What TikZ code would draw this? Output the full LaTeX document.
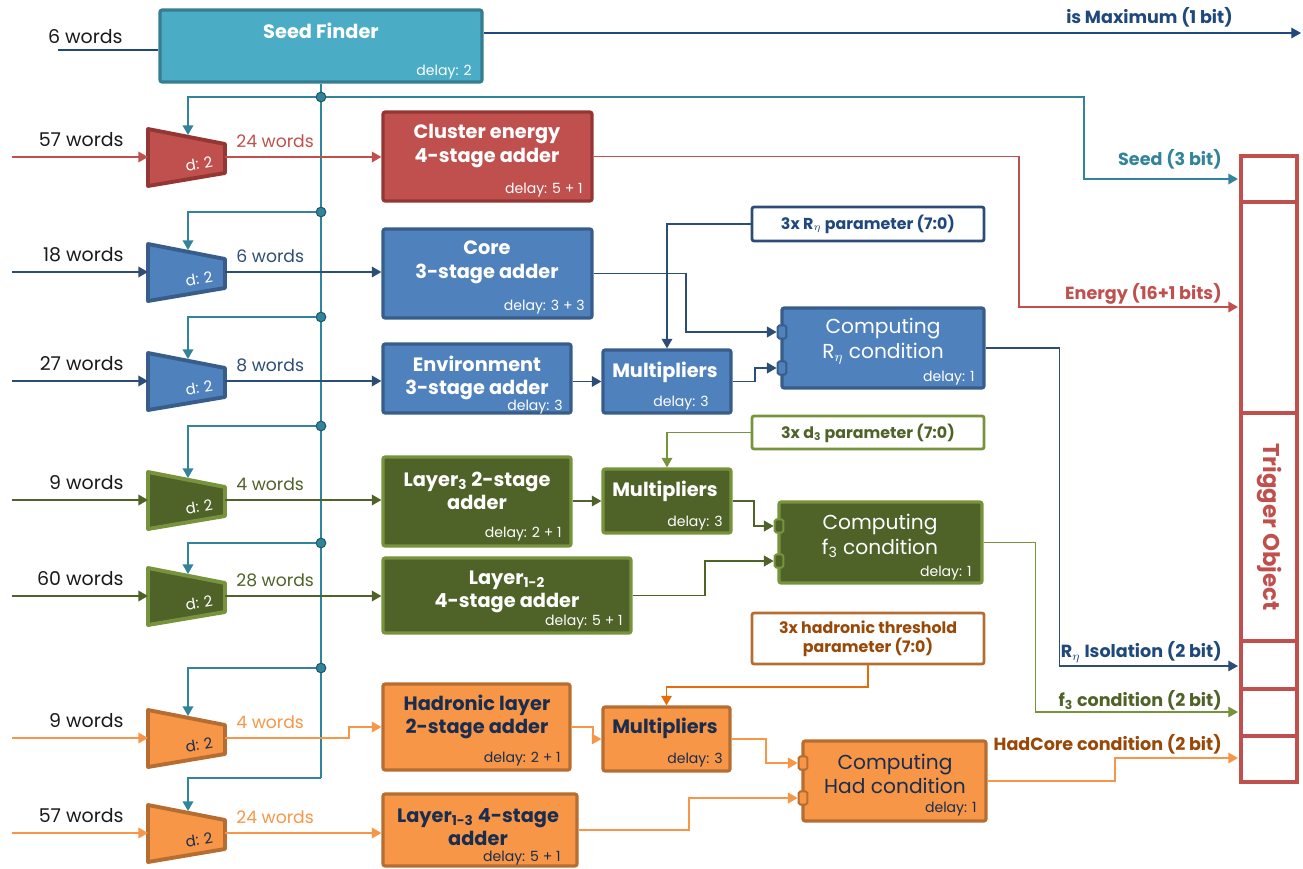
\documentclass[tikz,border=0pt]{standalone}
\usepackage{fontspec}
\setmainfont{Poppins}
\usetikzlibrary{arrows.meta,fit,positioning}

\definecolor{seedfill}{HTML}{4BACC6}
\definecolor{seeddraw}{HTML}{357D91}
\definecolor{busteal}{HTML}{31849B}
\definecolor{busdark}{HTML}{215968}
\definecolor{redfill}{HTML}{C0504D}
\definecolor{reddraw}{HTML}{943634}
\definecolor{bluefill}{HTML}{4F81BD}
\definecolor{bluedraw}{HTML}{385D8A}
\definecolor{navyline}{HTML}{2C4D75}
\definecolor{navy}{HTML}{1F497D}
\definecolor{greenfill}{HTML}{4F6228}
\definecolor{greendraw}{HTML}{77933C}
\definecolor{orangefill}{HTML}{F79646}
\definecolor{orangedraw}{HTML}{B66D31}
\definecolor{darkorange}{HTML}{E46C0A}
\definecolor{hadbrown}{HTML}{984807}
\definecolor{ink}{HTML}{1B2D4F}
\definecolor{inkblack}{HTML}{1A1A1A}

\tikzset{
  blk/.style={draw, line width=1.8pt, inner sep=0pt, rounded corners=1.2pt},
  ttl/.style={font=\bfseries\fontsize{11}{13.5}\selectfont, align=center, text=white, inner sep=0pt},
  cmp/.style={font=\fontsize{11.5}{14}\selectfont, align=center, text=white, inner sep=0pt},
  dly/.style={font=\fontsize{8}{9}\selectfont, text=white, anchor=base east, inner sep=0pt},
  parbox/.style={blk, fill=white, line width=1.6pt},
  ptxt/.style={font=\bfseries\fontsize{9}{11}\selectfont, align=center, inner sep=0pt},
  port/.style={draw, line width=1.1pt, rounded corners=1pt, minimum width=5pt, minimum height=7.5pt, inner sep=0pt},
  arr/.style={-{Triangle[length=5.5pt,width=6pt]}},
  wire/.style={line width=1.1pt},
  fine/.style={line width=0.6pt},
  bus/.style={wire, draw=busteal},
  tap/.style={circle, fill=busteal, draw=busdark, line width=0.6pt, minimum size=5.5pt, inner sep=0pt},
  wlbl/.style={font=\fontsize{10.8}{12}\selectfont, inner sep=0pt},
  wout/.style={font=\fontsize{9.8}{11}\selectfont, inner sep=0pt},
  olbl/.style={font=\bfseries\fontsize{10}{12}\selectfont, anchor=east, inner sep=0pt},
  muxline/.style={line width=2.2pt, line join=round},
  dlbl/.style={font=\fontsize{8.5}{10}\selectfont, rotate=10, inner sep=0pt}
}

% name, y, fill, border, line colour, words in, words out, text colour
\newcommand{\muxblock}[8]{%
  \draw[muxline, fill=#3, draw=#4] (148,#2-28) -- (225,#2-13) -- (225,#2+16) -- (148,#2+29) -- cycle;
  \node[dlbl, text=#8] (#1) at (199,#2+7) {d: 2};
  \coordinate (#1-in) at (148,#2);
  \coordinate (#1-out) at (225,#2);
  \coordinate (#1-sel) at (188,#2-22);
  \coordinate (#1-src) at (12,#2);
  \node[wlbl, anchor=east, text=inkblack] (#1-inl) at (124,#2-17) {#6};
  \node[wout, anchor=west, text=#5] (#1-outl) at (236,#2-16) {#7};
  \draw[wire, arr, #5] (#1-src) -- (#1-in);
}

\begin{document}
\begin{tikzpicture}[x=0.02cm, y=-0.02cm]
    \useasboundingbox (0,0) rectangle (1303,869);

    \node[blk, fill=seedfill, draw=seeddraw, fit={(160,10) (482,82)}] (sf) {};
    \node[ttl] (sf-t) at (321,31) {Seed Finder};
    \node[dly] (sf-d) at (472,75) {delay: 2};
    \coordinate (sf-src) at (58,50);
    \node[wlbl, anchor=east, text=inkblack] (sf-inl) at (123,37) {6 words};
    \draw[wire, navy] (sf-src) -- (sf-src -| sf.west);
    \coordinate (in-max) at (1301,33);
    \draw[fine, arr, navy] (sf.east |- in-max) -- (in-max);
    \node[olbl, text=navy] (max-l) at (1233,17) {is Maximum (1 bit)};

    \coordinate (in-seed) at (1238,179);
    \coordinate (in-en) at (1238,307);
    \coordinate (in-r) at (1238,666);
    \coordinate (in-f) at (1238,712);
    \coordinate (in-h) at (1238,758);

    \draw[bus] (sf.south) -- (321,778) coordinate (t7);
    \foreach \n/\yy in {1/97,2/212,3/317,4/426,5/543,6/668}
        \node[tap] (t\n) at (321,\yy) {};

    \muxblock{m1}{157}{redfill}{reddraw}{redfill}{57 words}{24 words}{white}
    \muxblock{m2}{272}{bluefill}{bluedraw}{navyline}{18 words}{6 words}{white}
    \muxblock{m3}{381}{bluefill}{bluedraw}{navyline}{27 words}{8 words}{white}
    \muxblock{m4}{500}{greenfill}{greendraw}{greenfill}{9 words}{4 words}{white}
    \muxblock{m5}{596}{greenfill}{greendraw}{greenfill}{60 words}{28 words}{white}
    \muxblock{m6}{738}{orangefill}{orangedraw}{orangefill}{9 words}{4 words}{ink}
    \muxblock{m7}{833}{orangefill}{orangedraw}{orangefill}{57 words}{24 words}{ink}

    \foreach \n in {1,...,7}
        \draw[bus, arr] (t\n) -| (m\n-sel);
    \draw[bus, arr] (t1) -- ++(763,0) |- (in-seed);
    \node[olbl, text=busteal] (seed-l) at (1222,159) {Seed (3 bit)};

    \node[blk, fill=redfill, draw=reddraw, fit={(383,112) (592,201)}] (ce) {};
    \node[ttl] (ce-t) at (487,146) {Cluster energy\\4-stage adder};
    \node[dly] (ce-d) at (583,193) {delay: 5 + 1};
    \draw[wire, arr, redfill] (m1-out) -- (m1-out -| ce.west);
    \draw[wire, arr, redfill] (ce.east) -- ++(425,0) |- (in-en);
    \node[olbl, text=redfill] (en-l) at (1222,294) {Energy (16+1 bits)};

    \node[blk, fill=bluefill, draw=bluedraw, fit={(383,229) (592,318)}] (core) {};
    \node[ttl] (core-t) at (487,262) {Core\\3-stage adder};
    \node[dly] (core-d) at (585,310) {delay: 3 + 3};
    \node[blk, fill=bluefill, draw=bluedraw, fit={(383,344) (571,413)}] (env) {};
    \node[ttl] (env-t) at (477,378) {Environment\\3-stage adder};
    \node[dly] (env-d) at (563,410) {delay: 3};
    \node[blk, fill=bluefill, draw=bluedraw, fit={(603,350) (731,413)}] (mulb) {};
    \node[ttl] (mulb-t) at (665,372) {Multipliers};
    \node[dly] (mulb-d) at (709,406) {delay: 3};
    \node[parbox, draw=navyline, fit={(752,207) (984,241)}] (rpar) {};
    \node[ptxt, text=navy] (rpar-t) at (868,224) {3x R$_\eta$ parameter (7:0)};
    \node[blk, fill=bluefill, draw=bluedraw, fit={(782,308) (984,388)}] (rcomp) {};
    \node[cmp] (rcomp-t) at (883,341) {Computing\\R$_\eta$ condition};
    \node[dly] (rcomp-d) at (975,381) {delay: 1};
    \node[port, fill=bluefill, draw=bluedraw] (rp1) at (782,332) {};
    \node[port, fill=bluefill, draw=bluedraw] (rp2) at (782,368) {};
    \draw[wire, arr, navyline] (m2-out) -- (m2-out -| core.west);
    \draw[wire, arr, navyline] (core.east) -- ++(92,0) |- (rp1.west);
    \draw[wire, arr, navyline] (m3-out) -- (m3-out -| env.west);
    \draw[wire, arr, navyline] (mulb.west -| env.east) -- (mulb.west);
    \draw[wire, arr, navyline] (rpar.west) -| (mulb.north);
    \draw[wire, arr, navyline] (mulb.east) -- ++(22,0) |- (rp2.west);
    \draw[fine, arr, navyline] (rcomp.east) -- ++(74,0) |- (in-r);
    \node[olbl, text=navy] (r-l) at (1222,652) {R$_\eta$ Isolation (2 bit)};

    \node[blk, fill=greenfill, draw=greendraw, fit={(383,457) (571,546)}] (l3) {};
    \node[ttl] (l3-t) at (477,491) {Layer\textsubscript{3} 2-stage\\adder};
    \node[dly] (l3-d) at (562,537) {delay: 2 + 1};
    \node[blk, fill=greenfill, draw=greendraw, fit={(603,469) (731,533)}] (mulg) {};
    \node[ttl] (mulg-t) at (665,491) {Multipliers};
    \node[dly] (mulg-d) at (723,526) {delay: 3};
    \node[parbox, draw=greendraw, fit={(752,416) (984,449)}] (dpar) {};
    \node[ptxt, text=greenfill] (dpar-t) at (868,433) {3x d\textsubscript{3} parameter (7:0)};
    \node[blk, fill=greenfill, draw=greendraw, fit={(779,502) (982,583)}] (fcomp) {};
    \node[cmp] (fcomp-t) at (880,536) {Computing\\f\textsubscript{3} condition};
    \node[dly] (fcomp-d) at (972,576) {delay: 1};
    \node[port, fill=greenfill, draw=greendraw] (fp1) at (779,526) {};
    \node[port, fill=greenfill, draw=greendraw] (fp2) at (779,561) {};
    \node[blk, fill=greenfill, draw=greendraw, fit={(383,558) (631,633)}] (l12) {};
    \node[ttl] (l12-t) at (507,592) {Layer\textsubscript{1-2}\\4-stage adder};
    \node[dly] (l12-d) at (623,625) {delay: 5 + 1};
    \draw[wire, arr, greenfill] (m4-out) -- (m4-out -| l3.west);
    \draw[wire, arr, greenfill] (mulg.west -| l3.east) -- (mulg.west);
    \draw[wire, arr, greendraw] (dpar.west) -| (mulg.north);
    \draw[wire, arr, greenfill] (mulg.east) -- ++(21,0) |- (fp1.west);
    \draw[wire, arr, greenfill] (m5-out) -- (m5-out -| l12.west);
    \draw[wire, arr, greenfill] (l12.east) -- ++(72,0) |- (fp2.west);
    \draw[fine, arr, greendraw] (fcomp.east) -- ++(52,0) |- (in-f);
    \node[olbl, text=greenfill] (f-l) at (1222,700) {f\textsubscript{3} condition (2 bit)};

    \node[blk, fill=orangefill, draw=orangedraw, fit={(383,684) (570,770)}] (had) {};
    \node[ttl, text=ink] (had-t) at (477,717) {Hadronic layer\\2-stage adder};
    \node[dly, text=ink] (had-d) at (561,762) {delay: 2 + 1};
    \node[blk, fill=orangefill, draw=orangedraw, fit={(603,707) (730,771)}] (mulo) {};
    \node[ttl, text=ink] (mulo-t) at (665,728) {Multipliers};
    \node[dly, text=ink] (mulo-d) at (723,763) {delay: 3};
    \node[parbox, draw=orangedraw, fit={(752,613) (984,664)}] (hpar) {};
    \node[ptxt, text=hadbrown] (hpar-t) at (868,639) {3x hadronic threshold\\parameter (7:0)};
    \node[blk, fill=orangefill, draw=orangedraw, fit={(803,741) (986,821)}] (hcomp) {};
    \node[cmp, text=ink] (hcomp-t) at (895,774) {Computing\\Had condition};
    \node[dly, text=ink] (hcomp-d) at (977,812) {delay: 1};
    \node[port, fill=orangefill, draw=orangedraw] (hp1) at (803,763) {};
    \node[port, fill=orangefill, draw=orangedraw] (hp2) at (803,798) {};
    \node[blk, fill=orangefill, draw=orangedraw, fit={(383,794) (577,866)}] (l13) {};
    \node[ttl, text=ink] (l13-t) at (478,827) {Layer\textsubscript{1-3} 4-stage\\adder};
    \node[dly, text=ink] (l13-d) at (561,861) {delay: 5 + 1};
    \draw[wire, arr, orangefill] (m6-out) -- ++(124,0) |- (had.west);
    \draw[wire, arr, orangefill] (had.east) -- ++(21,0) |- (mulo.west);
    \draw[wire, arr, darkorange] (hpar.south) -- ++(0,22) -| (mulo.north);
    \draw[wire, arr, orangefill] (mulo.east) -- ++(34,0) |- (hp1.west);
    \draw[wire, arr, orangefill] (m7-out) -- (m7-out -| l13.west);
    \draw[wire, arr, orangefill] (l13.east) -- ++(110,0) |- (hp2.west);
    \draw[wire, arr, orangefill] (hcomp.east) -- ++(127,0) |- (in-h);
    \node[olbl, text=hadbrown] (h-l) at (1222,744) {HadCore condition (2 bit)};

    \node[draw=redfill, line width=2.3pt, inner sep=0pt, fit={(1241,156) (1297,782)}] (trig) {};
    \foreach \yy in {202,413,641,689,736}
        \draw[redfill, line width=2.3pt] (1241,\yy) -- (1297,\yy);
    \node[rotate=-90, font=\bfseries\fontsize{13}{15}\selectfont, text=redfill] (trig-t) at (1269,527) {Trigger Object};
\end{tikzpicture}
\end{document}
